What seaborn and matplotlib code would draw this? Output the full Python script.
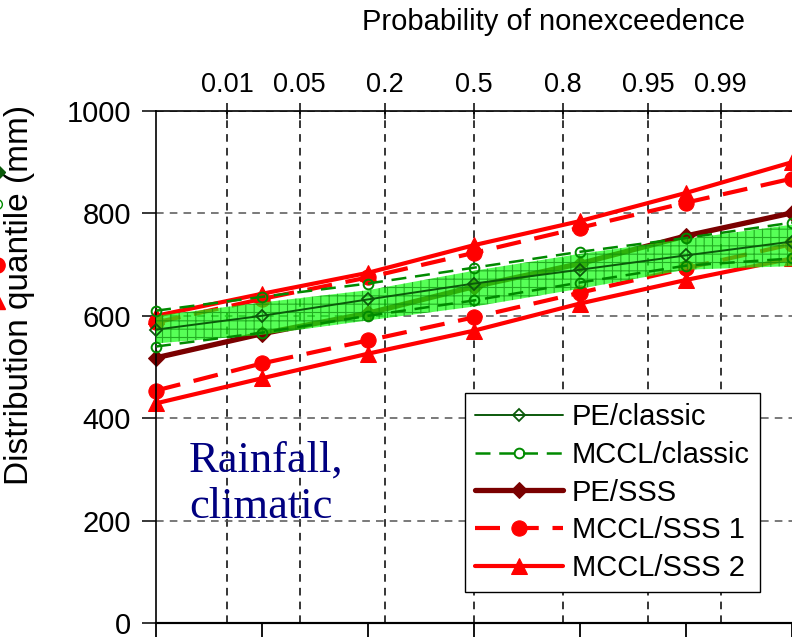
import numpy as np
import pandas as pd
import matplotlib
matplotlib.use('Agg')
import matplotlib.pyplot as plt
from matplotlib.lines import Line2D
import seaborn as sns
from statistics import NormalDist

# ---------------- data ----------------
z = [-3, -2, -1, 0, 1, 2, 3]                       # standard normal variate
prob_ticks = [0.01, 0.05, 0.2, 0.5, 0.8, 0.95, 0.99]
prob_labels = ['0.01', '0.05', '0.2', '0.5', '0.8', '0.95', '0.99']
y_ticks = [0, 200, 400, 600, 800, 1000]

pe_classic = [573, 600, 632, 663, 690, 718, 745]
mccl_classic_up = [610, 637, 663, 694, 725, 752, 782]
mccl_classic_lo = [540, 567, 600, 630, 665, 698, 712]
pe_sss = [518, 565, 605, 657, 702, 756, 801]
mccl_sss1_up = [587, 633, 675, 723, 772, 821, 868]
mccl_sss1_lo = [454, 507, 552, 597, 645, 693, 740]
mccl_sss2_up = [600, 643, 684, 738, 785, 840, 900]
mccl_sss2_lo = [429, 478, 526, 571, 624, 670, 712]
band_up = [600, 626, 650, 688, 721, 750, 778]
band_lo = [546, 563, 591, 618, 653, 690, 697]

legend_labels = ['PE/classic', 'MCCL/classic', 'PE/SSS', 'MCCL/SSS 1', 'MCCL/SSS 2']

# ---------------- style ----------------
sns.set_style('ticks')
plt.rcParams['font.family'] = ['Liberation Sans', 'DejaVu Sans']
plt.rcParams['hatch.linewidth'] = 0.8
for k in ['text.color', 'axes.labelcolor', 'xtick.color', 'ytick.color',
          'axes.edgecolor']:
    plt.rcParams[k] = 'black'

fig = plt.figure(figsize=(7.92, 6.39), dpi=100)
ax = fig.add_axes([156/792, 16/639, 636/792, 512/639])

RED = '#ff0000'
MAROON = '#7a0000'
DKGREEN = '#0b5a0b'
GREEN = '#008a00'


def draw(vals, zorder, **kw):
    sns.lineplot(x=z, y=vals, ax=ax, legend=False, clip_on=False,
                 zorder=zorder, **kw)
    return ax.lines[-1]


red_dash = (0, (6, 3.3))
green_dash = (0, (6, 3.5))

# red / maroon series (under the band)
h_s2 = draw(mccl_sss2_up, 2, color=RED, lw=3, marker='^', ms=11,
            markerfacecolor=RED, markeredgecolor=RED)
draw(mccl_sss2_lo, 2, color=RED, lw=3, marker='^', ms=11,
     markerfacecolor=RED, markeredgecolor=RED)
h_s1 = draw(mccl_sss1_up, 2, color=RED, lw=3, marker='o', ms=11,
            markerfacecolor=RED, markeredgecolor=RED, linestyle=red_dash)
draw(mccl_sss1_lo, 2, color=RED, lw=3, marker='o', ms=11,
     markerfacecolor=RED, markeredgecolor=RED, linestyle=red_dash)
h_pes = draw(pe_sss, 2.5, color=MAROON, lw=3.8, marker='D', ms=8,
             markerfacecolor=MAROON, markeredgecolor=MAROON)

# green hatched band
ax.fill_between(z, band_lo, band_up, facecolor='#10ff10', alpha=0.7,
                edgecolor='#0c8c0c', hatch='++', linewidth=0, zorder=3)

# green series (on top)
h_mc = draw(mccl_classic_up, 4, color=GREEN, lw=1.8, marker='o', ms=7,
            markerfacecolor='none', markeredgecolor=GREEN,
            markeredgewidth=1.4, linestyle=green_dash)
draw(mccl_classic_lo, 4, color=GREEN, lw=1.8, marker='o', ms=7,
     markerfacecolor='none', markeredgecolor=GREEN, markeredgewidth=1.4,
     linestyle=green_dash)
h_pec = draw(pe_classic, 4.5, color=DKGREEN, lw=1.4, marker='D', ms=6.5,
             markerfacecolor='none', markeredgecolor=DKGREEN,
             markeredgewidth=1.3)

# ---------------- axes ----------------
ax.set_xlim(-3, 3)
ax.set_ylim(0, 1000)
ax.set_yticks(y_ticks)
ax.set_yticklabels([str(v) for v in y_ticks], fontsize=21)
ax.set_xlabel('')
ax.set_ylabel('Distribution quantile (mm)', fontsize=24)
ax.yaxis.set_label_coords(-0.19, 0.64)

zp = [NormalDist().inv_cdf(p) for p in prob_ticks]
ax.xaxis.tick_top()
ax.set_xticks(zp)
ax.set_xticklabels(prob_labels, fontsize=19.5)
ax.tick_params(axis='x', direction='inout', length=12, width=1.1,
               top=True, bottom=False, labeltop=True, labelbottom=False,
               pad=3)
ax.tick_params(axis='y', direction='out', length=10, width=1.1, pad=8)

sec = ax.secondary_xaxis('bottom')
sec.set_xticks(z)
sec.set_xticklabels([])
sec.tick_params(direction='out', length=10, width=1.3)
sec.spines['bottom'].set_linewidth(1.5)

ax.set_axisbelow(True)
ax.xaxis.grid(True, color='black', linestyle=(0, (5, 4)), linewidth=1.1)
ax.yaxis.grid(True, color='#555555', linestyle=(0, (5, 4)), linewidth=1.1)

for s in ['left', 'top']:
    ax.spines[s].set_linewidth(1.2)
ax.spines['bottom'].set_linewidth(1.5)
ax.spines['right'].set_visible(False)

# ---------------- texts ----------------
fig.text(553/792, 1 - 22/639, 'Probability of nonexceedence', fontsize=21,
         ha='center', va='center')

ax.text(0.052, (623 - 518) / 512, 'Rainfall,\nclimatic', transform=ax.transAxes,
        fontsize=32, family=['Liberation Serif', 'DejaVu Serif'],
        color='#000080', ha='left', va='baseline', linespacing=1.2, zorder=6)

# ---------------- legend ----------------
leg = ax.legend([h_pec, h_mc, h_pes, h_s1, h_s2], legend_labels,
                loc='lower left', bbox_to_anchor=(0.486, 0.0605),
                borderaxespad=0, fontsize=21, frameon=True, fancybox=False,
                framealpha=1, edgecolor='black', handlelength=3.0,
                handletextpad=0.3, labelspacing=0.33, borderpad=0.35)
leg.get_frame().set_linewidth(1.0)
leg.set_zorder(10)

# ---------------- cut-off legend markers of the neighbouring panel ----------------
edge_marks = [
    dict(y=172, marker='D', mfc=DKGREEN, mec=DKGREEN, ms=8),
    dict(y=204, marker='o', mfc='none', mec=GREEN, ms=7),
    dict(y=265, marker='o', mfc=RED, mec=RED, ms=11),
    dict(y=301, marker='^', mfc=RED, mec=RED, ms=11),
]
for m in edge_marks:
    fig.add_artist(Line2D([-3/792], [1 - m['y']/639], transform=fig.transFigure,
                          marker=m['marker'], markerfacecolor=m['mfc'],
                          markeredgecolor=m['mec'], markersize=m['ms'],
                          linestyle='none', clip_on=False))

fig.savefig('out.png', dpi=100)
